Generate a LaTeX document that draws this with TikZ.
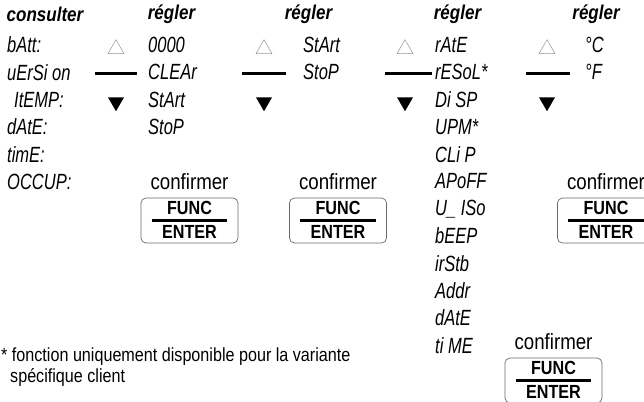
\documentclass[tikz,border=0pt]{standalone}
\usepackage{fontspec}
\setmainfont{Liberation Sans}[FakeStretch=0.85]
\newfontfamily\segfont{Liberation Sans}[FakeStretch=0.75]
\definecolor{keyline}{RGB}{105,105,105}
\definecolor{softgray}{RGB}{150,150,150}
\usetikzlibrary{shapes.geometric,positioning}

\tikzset{
  head/.style={font=\fontsize{20}{22}\selectfont\bfseries\itshape, inner sep=0},
  seg/.style={font=\fontsize{22}{24}\selectfont\segfont\itshape, anchor=west, inner sep=0},
  conf/.style={font=\fontsize{22}{24}\selectfont, inner sep=0},
  keytxt/.style={font=\fontsize{19}{21}\selectfont\bfseries, inner sep=0},
  keybox/.style={draw=keyline, line width=0.7pt, rounded corners=5pt,
    minimum width=97pt, minimum height=45pt, inner sep=0},
  keybar/.style={line width=2.6pt},
  scrollbar/.style={line width=3pt},
  upmark/.style={regular polygon, regular polygon sides=3, minimum size=18.5pt,
    inner sep=0, draw=softgray, line width=0.5pt},
  downmark/.style={regular polygon, regular polygon sides=3, minimum size=18.5pt,
    inner sep=0, shape border rotate=180, fill=black},
  foot/.style={font=\fontsize{19}{21}\selectfont, anchor=west, inner sep=0}
}

\begin{document}
\begin{tikzpicture}[x=1pt, y=-1pt]
  \useasboundingbox (0,0) rectangle (644,401);
  \clip (0,0) rectangle (644,401);

  % column titles
  \node[head] (hcons) at (45,14) {consulter};
  \node[head] (hreg1) at (171.5,14) {régler};
  \node[head] (hreg2) at (308.5,14) {régler};
  \node[head] (hreg3) at (457.5,14) {régler};
  \node[head] (hreg4) at (596,14) {régler};

  % display texts
  \foreach \t [count=\i] in {bAtt:, uErSi on, , dAtE:, timE:, OCCUP:}
    \node[seg] (cons\i) at (7,45+27.3*\i-27.3) {\t};
  \node[seg] (cons3) at (14,99.6) {ItEMP:};
  \foreach \t [count=\i] in {0000, CLEAr, StArt, StoP}
    \node[seg] (rega\i) at (148,45+27.3*\i-27.3) {\t};
  \foreach \t [count=\i] in {StArt, StoP}
    \node[seg] (regb\i) at (303,45+27.3*\i-27.3) {\t};
  \foreach \t [count=\i] in {rAtE, rESoL*, Di SP, UPM*, CLi P, APoFF,
      U\_ ISo, bEEP, irStb, Addr, dAtE, ti ME}
    \node[seg] (regc\i) at (435,45+27.3*\i-27.3) {\t};
  \foreach \t [count=\i] in {°C, °F}
    \node[seg] (regd\i) at (585,45+27.3*\i-27.3) {\t};

  % scroll marks
  \foreach \n/\x/\l/\r in {a/116/95/137, b/264/242/286, c/405/385/432, d/547/526/570} {
    \node[upmark] (up\n) at (\x,49) {};
    \node[downmark] (dn\n) at (\x,102) {};
    \coordinate (bl\n) at (\l,74);
    \coordinate (br\n) at (\r,74);
    \draw[scrollbar] (bl\n) -- (br\n);
  }

  % FUNC / ENTER keys
  \foreach \n/\x/\y in {a/189.5/220.5, b/338/220.5, c/606/220.5, d/553.5/380.5} {
    \node[keybox] (key\n) at (\x,\y) {};
    \node[keytxt] (func\n) at ([yshift=12.5pt]key\n.center) {FUNC};
    \node[keytxt] (enter\n) at ([yshift=-11.5pt]key\n.center) {ENTER};
    \coordinate (kl\n) at ([xshift=11pt]key\n.west);
    \coordinate (kr\n) at ([xshift=-11pt]key\n.east);
    \draw[keybar] (kl\n) -- (kr\n);
    \node[conf] (conf\n) at ([yshift=38.5pt]key\n.center) {confirmer};
  }

  % footnote
  \node[foot] (foot1) at (1,357) {* fonction uniquement disponible pour la variante};
  \node[foot] (foot2) at (10,377) {spécifique client};
\end{tikzpicture}
\end{document}
